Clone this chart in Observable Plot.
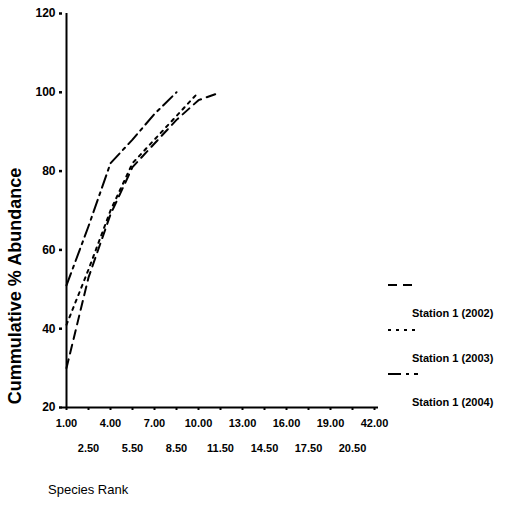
<!DOCTYPE html>
<html>
<head>
<meta charset="utf-8">
<script src="https://cdn.jsdelivr.net/npm/d3@7"></script>
<script src="https://cdn.jsdelivr.net/npm/@observablehq/plot@0.6"></script>
<style>
  body { margin: 0; background: #fff; font-family: "Liberation Sans", Arial, sans-serif; color: #000; }
  #chart { position: relative; width: 511px; height: 512px; overflow: hidden; }
  #chart svg { position: absolute; left: 0; top: 0; }
  .ytitle { position: absolute; left: 15px; top: 286px; transform: translate(-50%, -50%) rotate(-90deg);
            white-space: nowrap; font-size: 18px; font-weight: bold; }
  .xtitle { position: absolute; left: 48px; top: 482px; font-size: 13px; white-space: nowrap; }
  .legend-item { position: absolute; left: 386px; }
  .legend-item svg { position: static; display: block; }
  .legend-item span { display: block; margin-left: 26px; margin-top: 28px; font-size: 11px; font-weight: bold;
                      line-height: 13px; white-space: nowrap; }
</style>
</head>
<body>
<div id="chart"></div>
<script>
// Species rank categories along the x axis
const ranks = ["1.00", "2.50", "4.00", "5.50", "7.00", "8.50", "10.00", "11.50",
               "13.00", "14.50", "16.00", "17.50", "19.00", "20.50", "42.00"];

// Cumulative % abundance per station-year
const station2002 = [30, 53, 69, 81, 87, 93, 98, 100];
const station2003 = [41, 55, 70, 82, 88, 94, 100];
const station2004 = [51, 66, 82, 88, 94.5, 100];

const seriesNames = ["Station 1 (2002)", "Station 1 (2003)", "Station 1 (2004)"];
const seriesDash = ["9,6", "3,5", "13,5,3,5"];
const yTicks = [20, 40, 60, 80, 100, 120];

const series = [station2002, station2003, station2004].map((vals, s) => ({
  name: seriesNames[s],
  dash: seriesDash[s],
  rows: vals.map((v, i) => ({rank: ranks[i], value: v}))
}));

const evenRanks = ranks.filter((_, i) => i % 2 === 0);
const oddRanks = ranks.filter((_, i) => i % 2 === 1);

const plot = Plot.plot({
  width: 511,
  height: 512,
  marginTop: 13,
  marginRight: 133,
  marginBottom: 105,
  marginLeft: 62,
  style: {fontFamily: "'Liberation Sans', Arial, sans-serif", fontSize: "11px", color: "#000", background: "transparent"},
  x: {type: "point", domain: ranks, padding: 0, label: null},
  y: {domain: [20, 120], label: null},
  marks: [
    Plot.axisY({ticks: yTicks, tickSize: 3, tickPadding: 4, label: null, fontWeight: "bold", fontSize: 12, strokeWidth: 2.5}),
    Plot.axisX({ticks: evenRanks, tickSize: 3, tickPadding: 9, label: null, fontWeight: "bold", strokeWidth: 2}),
    Plot.axisX({ticks: oddRanks, tickSize: 3, tickPadding: 34, label: null, fontWeight: "bold", strokeWidth: 2}),
    Plot.ruleX([ranks[0]], {stroke: "#000", strokeWidth: 2}),
    Plot.ruleY([20], {stroke: "#000", strokeWidth: 2}),
    ...series.map(s => Plot.line(s.rows, {
      x: "rank", y: "value", stroke: "#000", strokeWidth: 2, strokeDasharray: s.dash
    }))
  ]
});

const chart = document.getElementById("chart");
chart.appendChild(plot);

// Axis titles
const yTitle = document.createElement("div");
yTitle.className = "ytitle";
yTitle.textContent = "Cummulative % Abundance";
chart.appendChild(yTitle);

const xTitle = document.createElement("div");
xTitle.className = "xtitle";
xTitle.textContent = "Species Rank";
chart.appendChild(xTitle);

// Legend: line sample above each station label
const legendTops = [279, 324, 368];
series.forEach((s, i) => {
  const item = document.createElement("div");
  item.className = "legend-item";
  item.style.top = legendTops[i] + "px";
  const svg = d3.create("svg").attr("width", 34).attr("height", 12);
  svg.append("line").attr("x1", 2).attr("x2", 32).attr("y1", 6).attr("y2", 6)
    .attr("stroke", "#000").attr("stroke-width", 2).attr("stroke-dasharray", s.dash);
  item.appendChild(svg.node());
  const label = document.createElement("span");
  label.textContent = s.name;
  item.appendChild(label);
  chart.appendChild(item);
});
</script>
</body>
</html>
